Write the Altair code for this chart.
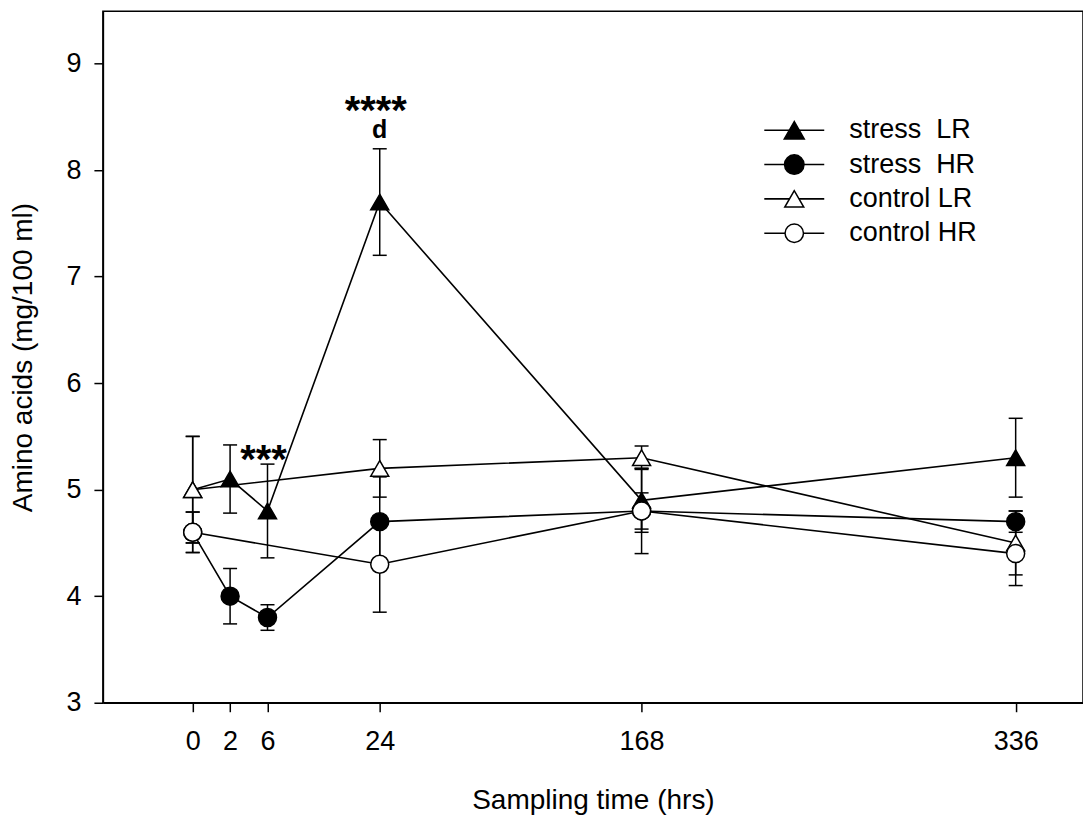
import altair as alt
import pandas as pd

# ---- data ----
hours = [0, 2, 6, 24, 168, 336]
hour_labels = ["0", "2", "6", "24", "168", "336"]

stress_lr = [5.0, 5.1, 4.8, 7.7, 4.9, 5.3]
stress_lr_err = [0.5, 0.32, 0.44, 0.5, 0.3, 0.37]
stress_hr = [4.6, 4.0, 3.8, 4.7, 4.8, 4.7]
stress_hr_err = [0.19, 0.26, 0.12, 0.42, 0.4, 0.1]

control_hours = [0, 24, 168, 336]
control_lr = [5.0, 5.2, 5.3, 4.5]
control_lr_err = [0.5, 0.27, 0.11, 0.3]
control_hr = [4.6, 4.3, 4.8, 4.4]
control_hr_err = [0.19, 0.45, 0.17, 0.3]

series_names = ["stress\u00a0 LR", "stress\u00a0 HR", "control LR", "control HR"]

ann_text = ["***", "****", "d"]
ann_hours = [6, 24, 24]
ann_value = [5.16, 8.43, 8.30]

# ---- layout of the (non-linear) time axis: slot index per sampling time ----
slot_of = dict(zip(hours, [0, 1, 2, 5, 12, 22]))

rows = []
for i, (name, hs, vals, errs) in enumerate([
    (series_names[0], hours, stress_lr, stress_lr_err),
    (series_names[1], hours, stress_hr, stress_hr_err),
    (series_names[2], control_hours, control_lr, control_lr_err),
    (series_names[3], control_hours, control_hr, control_hr_err),
]):
    for h, v, e in zip(hs, vals, errs):
        rows.append(dict(series=name, k=i, hours=h, slot=slot_of[h],
                         value=v, lo=v - e, hi=v + e))
df = pd.DataFrame(rows)

ann = pd.DataFrame(dict(text=ann_text, slot=[slot_of[h] for h in ann_hours],
                        value=ann_value))
leg = pd.DataFrame(dict(series=series_names))

label_expr = ""
for h, lab in zip(hours, hour_labels):
    label_expr += f"datum.value == {slot_of[h]} ? '{lab}' : "
label_expr += "''"

FONT = "Liberation Sans"
xs = alt.Scale(domain=[-2.4, 23.8], nice=False, zero=False)
ys = alt.Scale(domain=[3, 9.49], nice=False, zero=False)

x_axis = alt.Axis(values=[slot_of[h] for h in hours], labelExpr=label_expr,
                  title="Sampling time (hrs)", grid=False, tickSize=9,
                  labelPadding=17, titlePadding=32, labelFontSize=27,
                  titleFontSize=28)
y_axis = alt.Axis(values=[3, 4, 5, 6, 7, 8, 9], format="d",
                  title="Amino acids (mg/100 ml)", grid=False, tickSize=9,
                  labelPadding=13, titlePadding=28, labelFontSize=27,
                  titleFontSize=28)

shape_scale = alt.Scale(domain=series_names,
                        range=["triangle-up", "circle", "triangle-up", "circle"])
fill_scale = alt.Scale(domain=series_names, range=["black", "black", "white", "white"])

base = alt.Chart(df)
X = alt.X("slot:Q", scale=xs, axis=x_axis)
Y = alt.Y("value:Q", scale=ys, axis=y_axis)

lines = base.mark_line(color="black", strokeWidth=1.6).encode(
    x=X, y=Y, detail="series:N")

err = base.mark_rule(color="black", strokeWidth=1.5).encode(
    x=alt.X("slot:Q", scale=xs), y=alt.Y("lo:Q", scale=ys), y2="hi:Q")
cap_lo = base.mark_rule(color="black", strokeWidth=1.5, xOffset=-7, x2Offset=7).encode(
    x=alt.X("slot:Q", scale=xs), x2="slot:Q", y=alt.Y("lo:Q", scale=ys))
cap_hi = base.mark_rule(color="black", strokeWidth=1.5, xOffset=-7, x2Offset=7).encode(
    x=alt.X("slot:Q", scale=xs), x2="slot:Q", y=alt.Y("hi:Q", scale=ys))

points = base.mark_point(filled=True, opacity=1, size=324, strokeWidth=1.5).encode(
    x=alt.X("slot:Q", scale=xs), y=alt.Y("value:Q", scale=ys),
    shape=alt.Shape("series:N", scale=shape_scale, legend=None),
    fill=alt.Fill("series:N", scale=fill_scale, legend=None),
    stroke=alt.value("black"),
    order=alt.Order("k:Q"),
)

stars = alt.Chart(ann).transform_filter("datum.text != 'd'").mark_text(
    fontSize=40, font=FONT, fontWeight="bold", color="black", baseline="alphabetic",
    align="center", dx=-4).encode(
    x=alt.X("slot:Q", scale=xs), y=alt.Y("value:Q", scale=ys), text="text:N")
letter = alt.Chart(ann).transform_filter("datum.text == 'd'").mark_text(
    fontSize=25, font=FONT, fontWeight="bold", color="black", baseline="alphabetic",
    align="center").encode(
    x=alt.X("slot:Q", scale=xs), y=alt.Y("value:Q", scale=ys), text="text:N")

main = alt.layer(lines, err, cap_lo, cap_hi, points, stars, letter)

# ---- legend (drawn as marks, rows on their own point scale, outer padding 0.5 step) ----
LY = alt.Y("series:N", scale=alt.Scale(domain=series_names, range=[101.8, 239.2]),
           axis=None)
leg_base = alt.Chart(leg)
leg_line = leg_base.mark_rule(color="black", strokeWidth=1.6).encode(
    x=alt.value(662), x2=alt.value(722), y=LY)
leg_pts = leg_base.mark_point(filled=True, opacity=1, strokeWidth=1.5).encode(
    x=alt.value(692), y=LY,
    shape=alt.Shape("series:N", scale=shape_scale, legend=None),
    fill=alt.Fill("series:N", scale=fill_scale, legend=None),
    size=alt.Size("series:N", scale=alt.Scale(domain=series_names,
                                               range=[400, 340, 240, 210]), legend=None),
    stroke=alt.value("black"),
)
leg_txt = leg_base.mark_text(fontSize=27, font=FONT, color="black", align="left",
                             baseline="middle").encode(
    x=alt.value(747), y=LY, text="series:N")
legend = alt.layer(leg_line, leg_pts, leg_txt)

chart = alt.layer(main, legend).resolve_scale(
    y="independent"
).properties(
    width=981, height=692,
    autosize=alt.AutoSizeParams(type="none"),
    padding={"left": 103, "top": 11, "right": 0, "bottom": 118},
).configure(font=FONT).configure_view(
    stroke="black", strokeWidth=1.5
).configure_axis(
    domainColor="black", domainWidth=1.5, tickColor="black", tickWidth=1.5,
    labelColor="black", titleColor="black", titleFontWeight="normal",
    labelFont=FONT, titleFont=FONT,
)

chart.save("out.html", embed_options={"renderer": "svg", "actions": False})
